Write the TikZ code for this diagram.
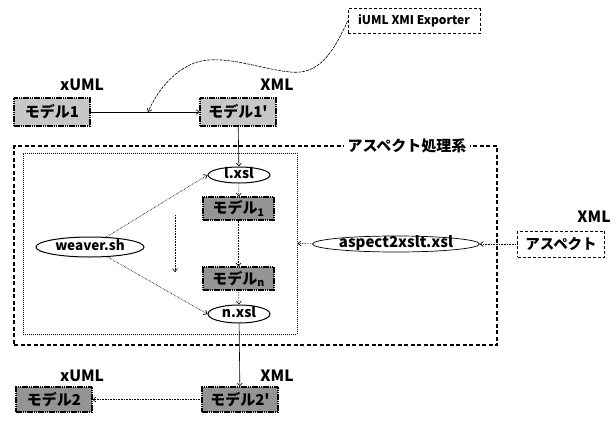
\documentclass[tikz,border=0pt]{standalone}
\usepackage{fontspec}
\setmainfont{Noto Sans CJK JP}
\newfontfamily\jp{Noto Sans CJK JP}
\usetikzlibrary{arrows.meta,shapes.geometric}
\begin{document}
\begin{tikzpicture}[x=1pt,y=-1pt,
  lbl/.style={font=\fontsize{15.5}{15.5}\selectfont\bfseries},
  gbox/.style={draw, line width=1.1pt, dash pattern=on 1.6pt off 0.6pt, fill=black!22,
    minimum width=76pt, minimum height=28pt, inner sep=0pt,
    font=\jp\fontsize{15}{15}\selectfont\bfseries},
  dbox/.style={gbox, fill=black!42, minimum height=24pt},
  ell/.style={draw, ellipse, line width=1pt, inner sep=0pt, text height=0.7em, text depth=0pt,
    font=\fontsize{14}{14}\selectfont\bfseries},
  arr/.style={-{Straight Barb[length=3pt,width=5pt]}, line width=0.6pt},
  darr/.style={arr, densely dotted},
]
\useasboundingbox (0,0) rectangle (614,424);

% top
\node[draw, densely dashed, line width=0.6pt, minimum width=132pt, minimum height=25pt, inner sep=0pt,
  font=\fontsize{12}{12}\selectfont\bfseries] (exp) at (414,21) {iUML XMI Exporter};
\node[lbl] (lx1) at (82,85) {xUML};
\node[lbl] (lx2) at (277,85) {XML};
\node[gbox] (m1) at (52,112) {モデル1};
\node[gbox] (m1p) at (238,112) {モデル1'};
\coordinate (hit) at (148,112);

% frames
\node[draw, line width=1.2pt, dash pattern=on 4pt off 2.5pt, minimum width=483pt, minimum height=199pt,
  inner sep=0pt] (outer) at (255.5,245.5) {};
\node[fill=white, inner sep=4pt, font=\jp\fontsize{15}{15}\selectfont\bfseries] (olbl) at (407,146) {アスペクト処理系};
\node[draw, line width=1pt, densely dotted, minimum width=274pt, minimum height=181pt,
  inner sep=0pt] (inner) at (160,243.5) {};

% inner content
\node[ell, minimum width=62pt, minimum height=16pt] (x1) at (239,175) {l.xsl};
\node[dbox, minimum width=71pt, minimum height=23pt] (mk1) at (238.5,208.5) {モデル\textsubscript{1}};
\node[dbox, minimum width=71pt, minimum height=23pt] (mkn) at (238.5,278.5) {モデル\textsubscript{n}};
\node[ell, minimum width=62pt, minimum height=18pt] (xn) at (239,314) {n.xsl};
\node[ell, minimum width=108pt, minimum height=20pt, font=\fontsize{13.5}{13.5}\selectfont\bfseries] (w) at (90,247) {weaver.sh};
\coordinate (va) at (175,215);
\coordinate (vb) at (175,272);

% aspect side
\node[ell, line width=0.7pt, minimum width=167pt, minimum height=16pt, font=\fontsize{15}{15}\selectfont\bfseries] (a2x) at (396,244) {aspect2xslt.xsl};
\node[draw, densely dashed, line width=0.8pt, minimum width=87pt, minimum height=26pt, inner sep=0pt,
  font=\jp\fontsize{14.5}{14.5}\selectfont\bfseries] (asp) at (561,244) {アスペクト};
\node[lbl] (lx5) at (594,217) {XML};

% bottom
\node[lbl] (lx3) at (82,376) {xUML};
\node[lbl] (lx4) at (277,376) {XML};
\node[dbox, minimum width=76pt, minimum height=25pt] (m2) at (54,399.5) {モデル2};
\node[dbox, minimum width=76pt, minimum height=25pt] (m2p) at (240,399.5) {モデル2'};

% connectors
\draw[arr] (m1) -- (m1p);
\draw[arr, dash pattern=on 3pt off 1pt] (exp.west) .. controls (332,55) and (318,75) .. (290,72)
   .. controls (262,69) and (235,58) .. (208,60) .. controls (182,62) and (160,85) .. (hit);
\draw[arr] (m1p) -- (x1);
\draw[darr] (x1) -- (mk1);
\draw[darr] (mk1) -- (mkn);
\draw[darr] (mkn) -- (xn);
\draw[arr] (xn) -- (m2p);
\draw[darr] (m2p) -- (m2);
\draw[darr, line width=0.7pt] (w) -- (x1.west);
\draw[darr, line width=0.7pt] (w) -- (xn.west);
\draw[darr] (va) -- (vb);
\draw[darr] (asp) -- (a2x);
\draw[darr] (a2x) -- (inner.east);
\end{tikzpicture}
\end{document}
